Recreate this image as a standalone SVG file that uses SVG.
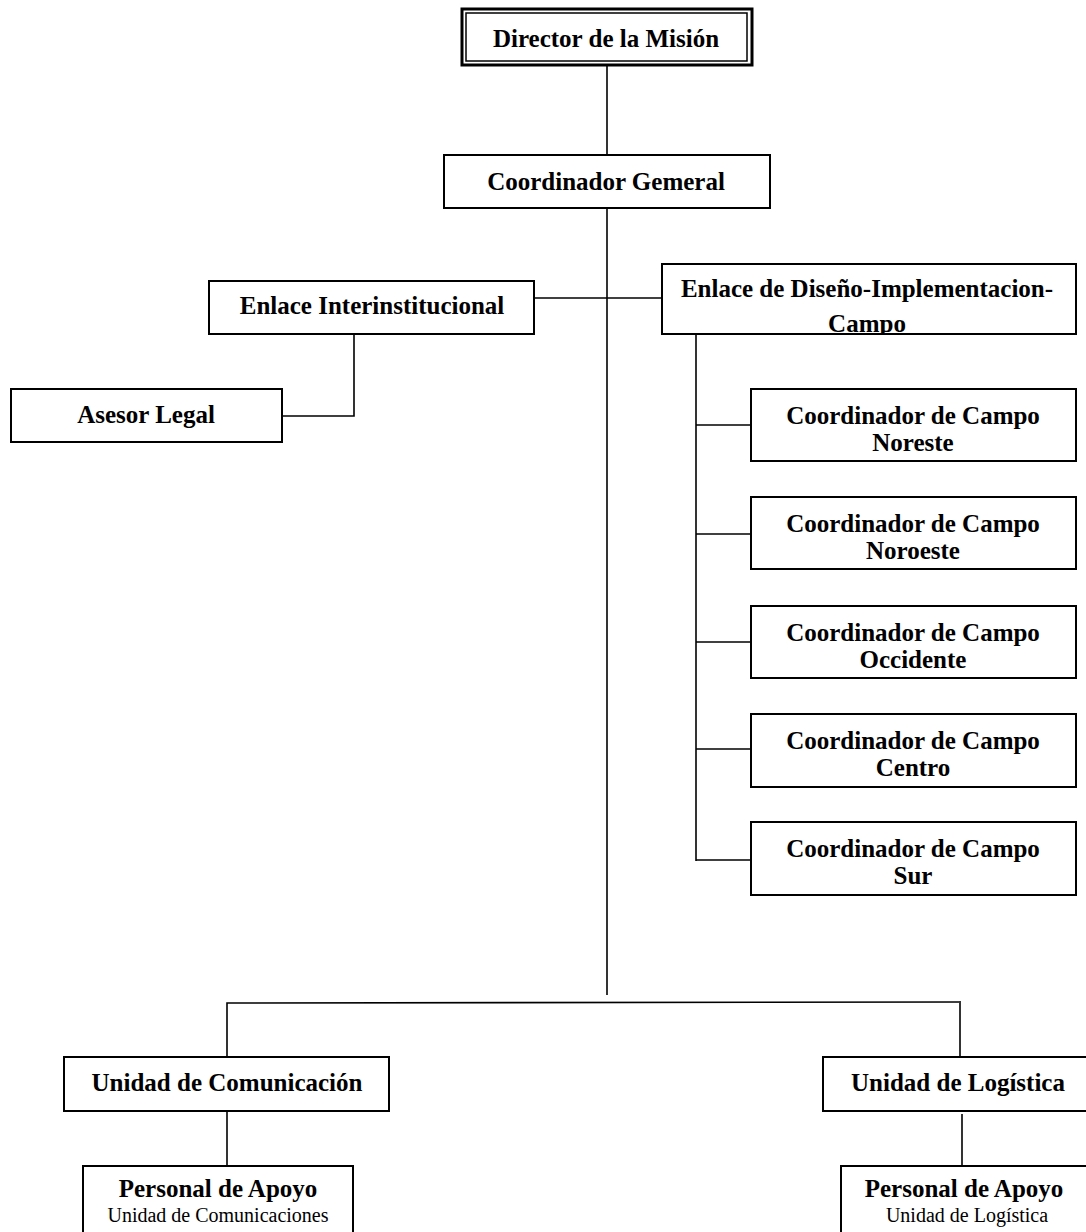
<svg xmlns="http://www.w3.org/2000/svg" width="1086" height="1232" viewBox="0 0 1086 1232">
<style>
.box{fill:#fff;stroke:#000;stroke-width:2}
.t{font-family:"Liberation Serif","Times New Roman",serif;font-weight:bold;font-size:25px;text-anchor:middle;fill:#000}
.s{font-family:"Liberation Serif","Times New Roman",serif;font-size:20px;text-anchor:middle;fill:#000}
.c{fill:none;stroke:#000;stroke-width:1.6}
</style>
<rect width="1086" height="1232" fill="#fff"/>
<g id="connectors">
<line class="c" x1="607" y1="65" x2="607" y2="155"/>
<line class="c" x1="607" y1="203" x2="607" y2="995" stroke-width="1.3"/>
<line class="c" x1="534" y1="298" x2="661" y2="298"/>
<polyline class="c" points="354,334 354,416 282,416"/>
<line class="c" x1="696" y1="334" x2="696" y2="861"/>
<line class="c" x1="696" y1="425" x2="751" y2="425"/>
<line class="c" x1="696" y1="534" x2="751" y2="534"/>
<line class="c" x1="696" y1="642" x2="751" y2="642"/>
<line class="c" x1="696" y1="749" x2="751" y2="749"/>
<line class="c" x1="696" y1="860" x2="751" y2="860"/>
<polyline class="c" points="227,1057 227,1003 959,1002"/>
<line class="c" x1="960" y1="1001" x2="960" y2="1056"/>
<line class="c" x1="227" y1="1111" x2="227" y2="1166"/>
<line class="c" x1="962" y1="1114" x2="962" y2="1166"/>
</g>
<g id="director">
<rect x="462" y="9" width="290" height="56" fill="#fff" stroke="#000" stroke-width="3"/>
<rect x="466" y="13" width="281" height="48" fill="none" stroke="#000" stroke-width="1.5"/>
<text class="t" x="606" y="47">Director de la Misión</text>
</g>
<g id="coordinador-general">
<rect class="box" x="444" y="155" width="326" height="53"/>
<text class="t" x="606" y="190">Coordinador Gemeral</text>
</g>
<g id="enlace-interinstitucional">
<rect class="box" x="209" y="281" width="325" height="53"/>
<text class="t" x="372" y="314">Enlace Interinstitucional</text>
</g>
<g id="asesor-legal">
<rect class="box" x="11" y="389" width="271" height="53"/>
<text class="t" x="146" y="423">Asesor Legal</text>
</g>
<g id="enlace-diseno">
<svg x="661" y="263" width="416" height="72" overflow="hidden">
<rect class="box" x="1" y="1" width="414" height="70"/>
<text class="t" x="206" y="34">Enlace de Diseño-Implementacion-</text>
<text class="t" x="206" y="69">Campo</text>
</svg>
<rect x="662" y="264" width="414" height="70" fill="none" stroke="#000" stroke-width="2"/>
</g>
<g id="campo-noreste">
<rect class="box" x="751" y="389" width="325" height="72"/>
<text class="t" x="913" y="424">Coordinador de Campo</text>
<text class="t" x="913" y="451">Noreste</text>
</g>
<g id="campo-noroeste">
<rect class="box" x="751" y="497" width="325" height="72"/>
<text class="t" x="913" y="532">Coordinador de Campo</text>
<text class="t" x="913" y="559">Noroeste</text>
</g>
<g id="campo-occidente">
<rect class="box" x="751" y="606" width="325" height="72"/>
<text class="t" x="913" y="641">Coordinador de Campo</text>
<text class="t" x="913" y="668">Occidente</text>
</g>
<g id="campo-centro">
<rect class="box" x="751" y="714" width="325" height="73"/>
<text class="t" x="913" y="749">Coordinador de Campo</text>
<text class="t" x="913" y="776">Centro</text>
</g>
<g id="campo-sur">
<rect class="box" x="751" y="822" width="325" height="73"/>
<text class="t" x="913" y="857">Coordinador de Campo</text>
<text class="t" x="913" y="884">Sur</text>
</g>
<g id="unidad-comunicacion">
<rect class="box" x="64" y="1057" width="325" height="54"/>
<text class="t" x="227" y="1091">Unidad de Comunicación</text>
</g>
<g id="unidad-logistica">
<rect class="box" x="823" y="1057" width="280" height="54"/>
<text class="t" x="958" y="1091">Unidad de Logística</text>
</g>
<g id="personal-comunicaciones">
<rect class="box" x="83" y="1166" width="270" height="80"/>
<text class="t" x="218" y="1197">Personal de Apoyo</text>
<text class="s" x="218" y="1222">Unidad de Comunicaciones</text>
</g>
<g id="personal-logistica">
<rect class="box" x="841" y="1166" width="260" height="80"/>
<text class="t" x="964" y="1197">Personal de Apoyo</text>
<text class="s" x="967" y="1222">Unidad de Logística</text>
</g>
</svg>
